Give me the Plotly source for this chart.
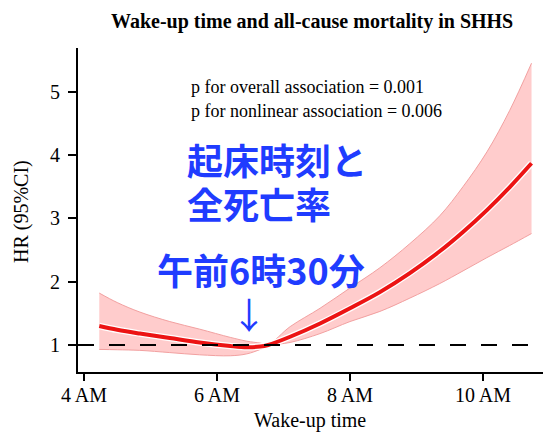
import plotly.graph_objects as go

# Wake-up time (hours after midnight) and hazard ratio with 95% CI
hours = [4.23, 4.5, 4.84, 5.29, 5.74, 6.2, 6.45, 6.65, 6.77, 7.1, 7.55, 8.0, 8.45, 8.9, 9.35, 9.7, 10.06, 10.4, 10.73]
hr    = [1.30, 1.24, 1.18, 1.11, 1.04, 0.985, 0.965, 0.975, 1.00, 1.13, 1.34, 1.58, 1.835, 2.135, 2.48, 2.785, 3.13, 3.49, 3.87]
upper = [1.82, 1.67, 1.52, 1.37, 1.25, 1.12, 1.06, 1.03, 1.01, 1.29, 1.58, 1.90, 2.22, 2.60, 3.04, 3.50, 4.05, 4.70, 5.45]
lower = [0.93, 0.925, 0.915, 0.88, 0.845, 0.83, 0.86, 0.93, 0.99, 1.04, 1.18, 1.37, 1.53, 1.74, 1.97, 2.17, 2.38, 2.57, 2.76]

x_ticks = [4, 6, 8, 10]
x_labels = ["4 AM", "6 AM", "8 AM", "10 AM"]
y_ticks = [1, 2, 3, 4, 5]
ref_hr = 1

title = "Wake-up time and all-cause mortality in SHHS"
p_lines = ["p for overall association = 0.001", "p for nonlinear association = 0.006"]
jp_lines = ["起床時刻と", "全死亡率"]
jp_time = "午前6時30分"

serif = "Liberation Serif, Times New Roman, serif"
jp_font = "Noto Sans CJK JP"
blue = "#1f3cff"

fig = go.Figure()
fig.add_trace(go.Scatter(x=hours, y=upper, mode="lines", line=dict(color="rgb(242,160,160)", width=1, shape="spline"),
                         hoverinfo="skip", showlegend=False))
fig.add_trace(go.Scatter(x=hours, y=lower, mode="lines", line=dict(color="rgb(242,160,160)", width=1, shape="spline"),
                         fill="tonexty", fillcolor="rgb(255,204,204)", hoverinfo="skip", showlegend=False))
fig.add_trace(go.Scatter(x=hours, y=hr, mode="lines", line=dict(color="white", width=6.5, shape="spline"),
                         hoverinfo="skip", showlegend=False))
fig.add_trace(go.Scatter(x=hours, y=hr, mode="lines", line=dict(color="rgb(236,20,20)", width=4, shape="spline"),
                         showlegend=False))

fig.add_shape(type="line", xref="paper", x0=0, x1=1, yref="y", y0=ref_hr, y1=ref_hr,
              line=dict(color="black", width=2, dash="16px,15px"), layer="above")

# plot area: 473 x 324 px
annotations = [
    dict(text="<b>" + title + "</b>", x=0.4947, y=1.0833, xref="paper", yref="paper",
         xanchor="center", yanchor="middle", showarrow=False, font=dict(family=serif, size=20, color="black")),
    dict(text=p_lines[0], x=0.2347, y=0.8796, xref="paper", yref="paper",
         xanchor="left", yanchor="middle", showarrow=False, font=dict(family=serif, size=18, color="black")),
    dict(text=p_lines[1], x=0.2347, y=0.8056, xref="paper", yref="paper",
         xanchor="left", yanchor="middle", showarrow=False, font=dict(family=serif, size=18, color="black")),
    dict(text="<b>" + jp_lines[0] + "</b>", x=0.2262, y=0.6574, xref="paper", yref="paper",
         xanchor="left", yanchor="middle", showarrow=False, font=dict(family=jp_font, size=36, color=blue)),
    dict(text="<b>" + jp_lines[1] + "</b>", x=0.2262, y=0.5216, xref="paper", yref="paper",
         xanchor="left", yanchor="middle", showarrow=False, font=dict(family=jp_font, size=36, color=blue)),
    dict(text="<b>" + jp_time + "</b>", x=0.1628, y=0.3179, xref="paper", yref="paper",
         xanchor="left", yanchor="middle", showarrow=False, font=dict(family=jp_font, size=36, color=blue)),
    dict(text="↓", x=0.3615, y=0.1821, xref="paper", yref="paper",
         xanchor="center", yanchor="middle", showarrow=False, font=dict(family=jp_font, size=36, color=blue)),
    dict(text="Wake-up time", x=0.4905, y=-0.151, xref="paper", yref="paper",
         xanchor="center", yanchor="middle", showarrow=False, font=dict(family=serif, size=20, color="black")),
    dict(text="HR (95%CI)", x=-0.1205, y=0.4938, xref="paper", yref="paper", textangle=-90,
         xanchor="center", yanchor="middle", showarrow=False, font=dict(family=serif, size=20, color="black")),
]

# the page body adds an 8 px offset, so the figure is shifted up/left by 8 px
fig.update_layout(
    width=543, height=424,
    margin=dict(l=70, r=0, t=40, b=60, autoexpand=False),
    paper_bgcolor="white", plot_bgcolor="white",
    annotations=annotations,
    xaxis=dict(range=[3.91, 11.023], tickvals=x_ticks, ticktext=x_labels, showgrid=False, zeroline=False,
               showline=True, linecolor="black", linewidth=2, ticks="outside", ticklen=7, tickwidth=2,
               tickcolor="black", tickfont=dict(family=serif, size=20, color="black"), automargin=False,
               ticklabelstandoff=-3),
    yaxis=dict(range=[0.5735, 5.69], tickvals=y_ticks, showgrid=False, zeroline=False,
               showline=True, linecolor="black", linewidth=2, ticks="outside", ticklen=8, tickwidth=2,
               tickcolor="black", tickfont=dict(family=serif, size=20, color="black"), ticklabelstandoff=4,
               automargin=False),
)

fig.write_html("out.html")
